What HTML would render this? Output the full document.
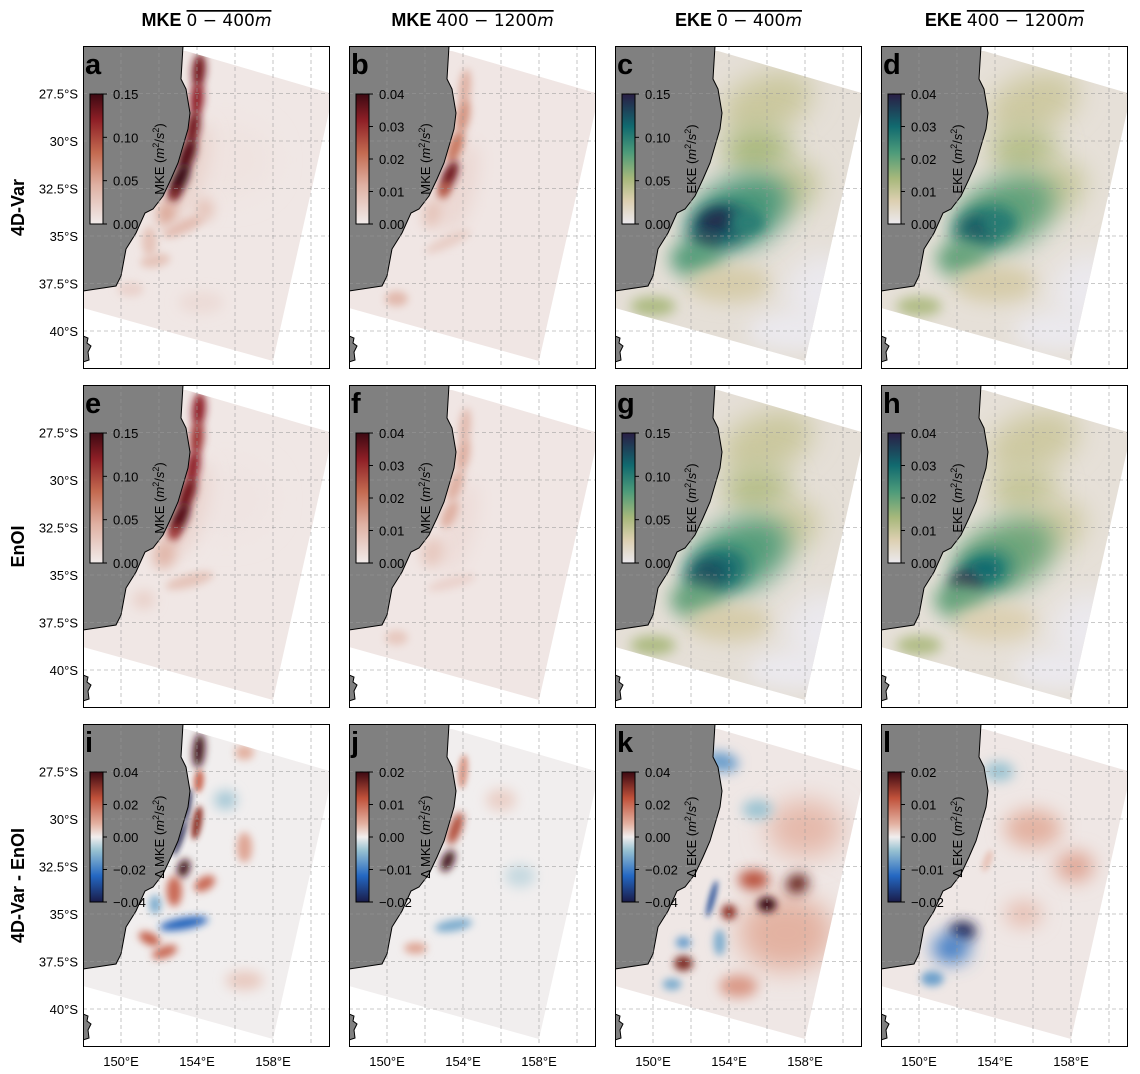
<!DOCTYPE html>
<html><head><meta charset="utf-8"><style>
html,body{margin:0;padding:0;background:#fff;}
svg{display:block;font-family:"Liberation Sans","DejaVu Sans",sans-serif;}
</style></head><body>
<svg id="fig" width="1140" height="1074" viewBox="0 0 1140 1074" xmlns="http://www.w3.org/2000/svg">
<defs id="defs"></defs>
</svg>
<script>
// ---- data ----
const colTitles = [["MKE","0 − 400m"],["MKE","400 − 1200m"],["EKE","0 − 400m"],["EKE","400 − 1200m"]];
const rowTitles = ["4D-Var","EnOI","4D-Var - EnOI"];
const panelLetters = ["a","b","c","d","e","f","g","h","i","j","k","l"];
const latTicks = [27.5,30,32.5,35,37.5,40];
const latTickLabels = ["27.5°S","30°S","32.5°S","35°S","37.5°S","40°S"];
const lonTicks = [150,154,158];
const lonTickLabels = ["150°E","154°E","158°E"];
const vmaxes = [0.15,0.04,0.15,0.04, 0.15,0.04,0.15,0.04, 0.04,0.02,0.04,0.02];
const cbTicksA = ["0.15","0.10","0.05","0.00"];
const cbTicksB = ["0.04","0.03","0.02","0.01","0.00"];
const cbTicksC = ["0.04","0.02","0.00","−0.02","−0.04"];
const cbTicksD = ["0.02","0.01","0.00","−0.01","−0.02"];
const backgroundValues = [0.003,0.001,0.01,0.0025, 0.003,0.001,0.01,0.0025, 0,0,0.001,0.0005];
// blobs: [lon, lat(°S), rx(deg), ry(deg), angle, value]
const blobsA = [[155.5,31,2.5,2,0,0.006],[153.6,31.5,0.8,2.5,15,0.02],[154.1,26.3,0.35,0.9,5,0.13],[154.0,27.8,0.35,0.9,5,0.12],[153.8,29.3,0.35,0.9,10,0.13],[153.5,30.7,0.4,0.9,20,0.14],[153.1,32.0,0.4,0.9,25,0.15],[152.8,32.8,0.3,0.5,25,0.13],[152.4,33.8,0.5,0.7,15,0.05],[153.3,34.5,1.2,0.35,-25,0.035],[151.5,35.3,0.4,0.8,0,0.03],[151.8,36.3,0.8,0.35,-10,0.03],[154.4,33.6,0.5,0.6,0,0.03],[150.5,37.8,0.7,0.4,0,0.018],[154.2,38.5,1.2,0.6,0,0.012]];
const blobsB = [[153.8,32.5,0.8,2.5,15,0.004],[154.1,27.2,0.3,1.0,5,0.012],[154.0,28.7,0.35,0.9,10,0.016],[153.6,30.3,0.35,0.9,20,0.02],[153.3,31.8,0.35,0.8,25,0.035],[153.0,32.6,0.3,0.5,25,0.025],[152.4,33.8,0.5,0.8,15,0.008],[153.2,35.3,1.3,0.3,-25,0.006],[150.5,38.3,0.6,0.4,0,0.01]];
const blobsC = [[156,28,2.5,1.5,-20,0.035],[155.5,30.5,1.8,1.3,0,0.05],[157,32.5,1.8,1.3,-20,0.04],[154.5,33.8,2.8,1.8,-25,0.085],[153.5,34.5,1.6,1.1,-20,0.12],[153.3,34.2,0.9,0.6,-20,0.14],[152.8,35.3,0.6,0.5,0,0.14],[155,34.3,0.9,0.6,0,0.1],[152.3,36.2,1.4,1.0,0,0.08],[154,37.5,2.2,1.0,0,0.03],[159,38,2,2,0,0.0],[157.5,40,2.5,1,0,0.0],[150,38.7,1.2,0.5,0,0.05]];
const blobsD = [[156,28,2.5,1.5,-20,0.009],[155.5,30.5,1.8,1.3,0,0.012],[157,32.5,1.8,1.3,-20,0.01],[154.5,33.8,2.8,1.8,-25,0.02],[153.5,34.5,1.6,1.1,-20,0.026],[153.0,34.7,0.9,0.7,-20,0.033],[154.2,34.3,0.8,0.5,0,0.027],[152.3,36.2,1.4,1.0,0,0.02],[154,37.5,2.2,1.0,0,0.008],[159,38,2,2,0,0.0],[157.5,40,2.5,1,0,0.0],[150,38.7,1.2,0.5,0,0.013]];
const blobsE = [[155.5,31,2.5,2,0,0.005],[153.6,31.5,0.8,2.5,15,0.018],[154.1,26.3,0.35,0.9,5,0.12],[154.0,27.8,0.35,0.9,5,0.11],[153.8,29.3,0.35,0.9,10,0.12],[153.5,30.7,0.4,0.9,20,0.13],[153.1,32.0,0.4,0.9,25,0.14],[152.8,32.8,0.3,0.5,25,0.11],[152.3,33.9,0.6,0.8,15,0.04],[153.6,35.3,1.3,0.35,-15,0.03],[151.2,36.3,0.6,0.5,0,0.02]];
const blobsF = [[153.8,32.5,0.8,2.5,15,0.003],[154.1,27.2,0.3,1.0,5,0.01],[154.0,28.7,0.35,0.9,10,0.012],[153.6,30.3,0.35,0.9,20,0.012],[153.3,31.8,0.35,0.8,25,0.012],[152.4,33.8,0.6,0.8,15,0.007],[153.4,35.4,1.3,0.3,-15,0.005],[150.5,38.3,0.6,0.4,0,0.007]];
const blobsG = [[156,28,2.5,1.5,-20,0.035],[155.5,30.5,1.8,1.3,0,0.045],[157,32.5,1.8,1.3,-20,0.035],[154.5,34,2.8,1.8,-25,0.08],[153.4,34.8,1.6,1.1,-20,0.11],[152.9,35.0,0.9,0.7,-20,0.13],[152.7,35.5,0.6,0.5,0,0.13],[152.3,36.3,1.4,1.0,0,0.075],[154,37.5,2.2,1.0,0,0.03],[159,38,2,2,0,0.0],[157.5,40,2.5,1,0,0.0],[150,38.7,1.2,0.5,0,0.05]];
const blobsH = [[156,28,2.5,1.5,-20,0.009],[155.5,30.5,1.8,1.3,0,0.01],[157,32.5,1.8,1.3,-20,0.009],[154.5,34,2.8,1.8,-25,0.019],[153.4,34.8,1.6,1.1,-20,0.026],[152.5,35.4,0.9,0.6,-20,0.04],[153.5,34.7,0.8,0.5,0,0.03],[152.2,36.3,1.4,1.0,0,0.02],[154,37.5,2.2,1.0,0,0.007],[159,38,2,2,0,0.0],[157.5,40,2.5,1,0,0.0],[150,38.7,1.2,0.5,0,0.013]];
const blobsI = [[154.1,26.4,0.3,0.9,5,0.04],[154.1,28.0,0.25,0.6,5,0.02],[153.5,29.3,0.15,0.9,10,-0.04],[153.1,31.0,0.15,1.0,20,-0.04],[154.0,30.2,0.25,0.9,10,0.03],[153.3,32.6,0.3,0.5,20,0.04],[152.8,33.8,0.4,0.8,0,0.02],[154.4,33.4,0.6,0.35,-30,0.02],[153.3,35.5,1.3,0.3,-10,-0.025],[151.5,36.3,0.6,0.3,25,0.022],[152.3,37.0,0.7,0.3,-20,0.02],[156.5,31.5,0.4,0.8,0,0.01],[156.5,26.5,0.5,0.4,0,0.008],[155.5,29,0.6,0.5,0,-0.007],[151.8,34.5,0.3,0.5,0,-0.012],[156.5,38.5,1,0.5,0,0.005]];
const blobsJ = [[154.0,27.5,0.25,0.9,5,0.006],[153.6,30.5,0.3,0.9,20,0.013],[153.2,32.2,0.3,0.6,25,0.02],[153.5,35.6,1.0,0.3,-10,-0.006],[151.5,36.8,0.6,0.3,0,0.005],[156,29,0.8,0.6,0,0.002],[157,33,0.8,0.6,0,-0.002]];
const blobsK = [[157,36,2.5,2,0,0.008],[158,30.5,2,1.5,0,0.007],[156,34.5,0.5,0.4,0,0.04],[157.6,33.4,0.6,0.5,-20,0.035],[155.3,33.2,0.8,0.5,0,0.025],[154.0,34.9,0.4,0.4,0,0.03],[151.6,37.6,0.5,0.4,0,0.032],[153.6,27.0,0.9,0.5,10,-0.015],[153.1,34.2,0.15,1.0,15,-0.03],[153.5,36.5,0.3,0.7,0,-0.012],[151.6,36.5,0.4,0.3,0,-0.015],[155.5,29.5,0.8,0.5,0,-0.008],[151,38.7,0.5,0.3,0,-0.012],[154.5,38.8,1,0.6,0,0.012]];
const blobsL = [[152.3,35.9,0.7,0.5,0,-0.02],[151.7,36.8,1.0,0.8,0,-0.01],[150.7,38.4,0.6,0.4,0,-0.007],[156,30.5,1.5,1,0,0.004],[158.2,32.5,1,0.8,0,0.005],[154.2,27.5,0.8,0.5,0,-0.004],[155.5,35,1,0.7,0,0.003],[153.6,32.2,0.2,0.6,20,0.003]];
const panelBlobs = [blobsA,blobsB,blobsC,blobsD,blobsE,blobsF,blobsG,blobsH,blobsI,blobsJ,blobsK,blobsL];

// ---- layout ----
const colX = [83,349,615,881], rowY = [46,385,724], PW = 247, PH = 323, DEG = 19;
const cmaps = {
  amp: [[0,"#f1ebea"],[0.3,"#dfb0a2"],[0.55,"#c36a50"],[0.8,"#8e1f26"],[1,"#3c0912"]],
  rain: [[0,"#ebe9ee"],[0.18,"#dccfb0"],[0.35,"#a7b87b"],[0.55,"#4d9b7a"],[0.75,"#116a6f"],[1,"#2a1e45"]],
  bal: [[0,"#1a1c4a"],[0.2,"#2467c2"],[0.4,"#9ac3d2"],[0.5,"#f1eeee"],[0.6,"#e3b2a2"],[0.8,"#c0513a"],[1,"#3c0912"]]
};
function hex2rgb(h){return [1,3,5].map(i=>parseInt(h.substr(i,2),16));}
function cmap(name,t){
  const s=cmaps[name]; t=Math.max(0,Math.min(1,t));
  for(let i=1;i<s.length;i++){ if(t<=s[i][0]){const a=s[i-1],b=s[i],f=(t-a[0])/(b[0]-a[0]);const A=hex2rgb(a[1]),B=hex2rgb(b[1]);return "rgb("+A.map((v,k)=>Math.round(v+(B[k]-v)*f)).join(",")+")";}}
  return s[s.length-1][1];
}
const NS="http://www.w3.org/2000/svg";
const svg=document.getElementById("fig"), defs=document.getElementById("defs");
function el(tag,attrs,parent){const e=document.createElementNS(NS,tag);for(const k in attrs)e.setAttribute(k,attrs[k]);(parent||svg).appendChild(e);return e;}

for(const name in cmaps){
  const g=el("linearGradient",{id:"g-"+name,x1:0,y1:1,x2:0,y2:0},defs);
  cmaps[name].forEach(s=>el("stop",{offset:s[0],"stop-color":s[1]},g));
}
[3,4,6,9,13].forEach(b=>{const f=el("filter",{id:"blur"+b,x:"-100%",y:"-100%",width:"300%",height:"300%"},defs);el("feGaussianBlur",{stdDeviation:b},f);});

const coast=[[100,0],[98,33],[103,43],[107,67],[105,83],[100,100],[95,117],[88,133],[80,150],[70,163],[62,167],[53,187],[43,203],[38,230],[33,240],[0,245]];
const domainPoly=[[0,5],[103,5],[250,48],[190,315],[0,262]];

for(let p=0;p<12;p++){
  const r=Math.floor(p/4), c=p%4, px=colX[c], py=rowY[r];
  const kind = r===2 ? "bal" : (c<2 ? "amp" : "rain");
  const vmax=vmaxes[p];
  const norm=v=> kind==="bal" ? 0.5+v/(2*vmax) : v/vmax;
  const lonX=lon=>px+(lon-148)*DEG, latY=lat=>py+(lat-25)*DEG;
  const panel=el("g",{});
  
  
  const cp=el("clipPath",{id:"cp"+p},defs); el("rect",{x:px,y:py,width:PW,height:PH},cp);
  const cd=el("clipPath",{id:"cd"+p},defs); el("polygon",{points:domainPoly.map(q=>(px+q[0])+","+(py+q[1])).join(" ")},cd);
  el("rect",{x:px,y:py,width:PW,height:PH,fill:"#fff"},panel);
  const inner=el("g",{"clip-path":"url(#cp"+p+")"},panel);
  const field=el("g",{"clip-path":"url(#cd"+p+")"},inner);
  
  
  el("rect",{x:px,y:py,width:PW,height:PH,fill:cmap(kind,norm(backgroundValues[p]))},field);
  panelBlobs[p].forEach(b=>{
    const cx=lonX(b[0]), cy=latY(b[1]), rx=b[2]*DEG, ry=b[3]*DEG;
    const m=Math.min(rx,ry); const bl = m<5?3:(m<8?4:(m<13?6:(m<22?9:13)));
    const e=el("ellipse",{cx:cx,cy:cy,rx:rx,ry:ry,fill:cmap(kind,norm(b[5])),filter:"url(#blur"+bl+")",transform:"rotate("+b[4]+" "+cx+" "+cy+")"},field);
    
    
  });
  const landPts=[[-5,-5],[100,-5]].concat(coast).concat([[-5,245]]);
  const land=el("polygon",{points:landPts.map(q=>(px+q[0])+","+(py+q[1])).join(" "),fill:"#808080",stroke:"#000","stroke-width":1},inner);
  
  
  const tas=el("path",{d:`M${px} ${py+290} l5 2 l-1 5 l4 3 l-3 6 l1 8 l-6 2 Z`,fill:"#808080",stroke:"#000","stroke-width":1},inner);
  
  
  for(let lon=150;lon<=160;lon+=2){const l=el("line",{x1:lonX(lon),x2:lonX(lon),y1:py,y2:py+PH,stroke:"#999","stroke-width":0.8,"stroke-dasharray":"4,3","stroke-opacity":0.7},inner);}
  latTicks.forEach(lat=>{const l=el("line",{x1:px,x2:px+PW,y1:latY(lat),y2:latY(lat),stroke:"#999","stroke-width":0.8,"stroke-dasharray":"4,3","stroke-opacity":0.7},inner);});
  const cbx=px+7, cby=py+48, cbw=13, cbh=130;
  const cb=el("rect",{x:cbx,y:cby,width:cbw,height:cbh,fill:"url(#g-"+kind+")",stroke:"#000","stroke-width":1},panel);
  
  
  const ticks = r===2 ? (c%2===0?cbTicksC:cbTicksD) : (c%2===0?cbTicksA:cbTicksB);
  ticks.forEach((t,i)=>{
    const ty=cby+i*cbh/(ticks.length-1);
    el("line",{x1:cbx+cbw,x2:cbx+cbw+4,y1:ty,y2:ty,stroke:"#000"},panel);
    const tx=el("text",{x:cbx+cbw+10,y:ty+5,"font-size":13,fill:"#000"},panel); tx.textContent=t;
    
    
  });
  const qty = (c<2?"MKE":"EKE");
  const lab=el("text",{x:0,y:0,"font-size":13,"text-anchor":"middle",transform:`translate(${px+81},${cby+cbh/2}) rotate(-90)`},panel);
  lab.innerHTML=(r===2?"Δ ":"")+qty+" (<tspan font-style='italic'>m</tspan><tspan font-size='9' dy='-5'>2</tspan><tspan dy='5'>/</tspan><tspan font-style='italic'>s</tspan><tspan font-size='9' dy='-5'>2</tspan><tspan dy='5'>)</tspan>";
  
  
  const lt=el("text",{x:px+2,y:py+28,"font-size":29,"font-weight":"bold"},panel); lt.textContent=panelLetters[p];
  
  
  const fr=el("rect",{x:px+0.5,y:py+0.5,width:PW-1,height:PH-1,fill:"none",stroke:"#000","stroke-width":1},panel);
  
  
  if(c===0){ latTicks.forEach((lat,i)=>{
    const t=el("text",{x:px-5,y:latY(lat)+5,"font-size":13,"text-anchor":"end"},svg); t.textContent=latTickLabels[i];
    
    
  });}
  if(r===2){ lonTicks.forEach((lon,i)=>{
    const t=el("text",{x:lonX(lon),y:py+PH+19,"font-size":13,"text-anchor":"middle"},svg); t.textContent=lonTickLabels[i];
    
    
  });}
}
colTitles.forEach((t,c)=>{
  const cx=colX[c]+PW/2;
  const tt=el("text",{x:cx,y:26,"font-size":18,"text-anchor":"middle"});
  tt.innerHTML="<tspan font-weight='bold'>"+t[0]+" </tspan><tspan font-family='DejaVu Sans' font-size='17' text-decoration='overline'>"+t[1].replace("m","<tspan font-style='italic'>m</tspan>")+"</tspan>";
  
  
});
rowTitles.forEach((t,r)=>{
  const cy=rowY[r]+PH/2;
  const tt=el("text",{x:0,y:0,"font-size":18,"font-weight":"bold","text-anchor":"middle",transform:`translate(24,${cy}) rotate(-90)`});
  tt.textContent=t;
  
  
});
</script>
</body></html>
